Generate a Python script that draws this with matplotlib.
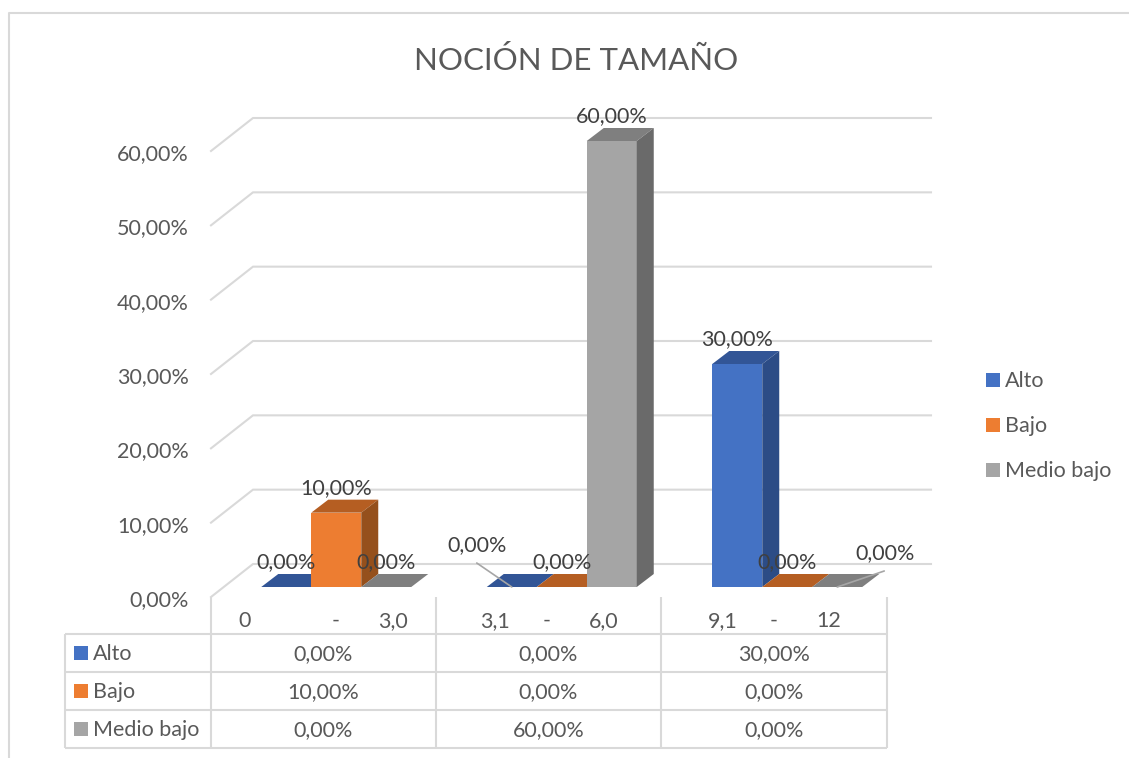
#!/usr/bin/env python3
import matplotlib
matplotlib.use("Agg")
import matplotlib.pyplot as plt
from matplotlib.lines import Line2D
from matplotlib.patches import Polygon, Rectangle
from matplotlib.transforms import Affine2D

series = ["Alto", "Bajo", "Medio bajo"]
alto = [0, 0, 30]
bajo = [10, 0, 0]
medio = [0, 60, 0]
cat_low = ["0", "3,1", "9,1"]
cat_high = ["3,0", "6,0", "12"]
y_ticks = [0, 10, 20, 30, 40, 50, 60]

front = ["#4472C4", "#ED7D31", "#A5A5A5"]
top = ["#325596", "#B55E22", "#7F7F7F"]
side = ["#2C4C86", "#95501C", "#6A6A6A"]
GRID = "#D9D9D9"
TXT = "#595959"
LAB = "#404040"
FS = 15.5

W, H = 1129, 758
plt.rcParams["font.family"] = ["Lato", "DejaVu Sans"]


def pct(v):
    return f"{v:.2f}".replace(".", ",") + "%"


fig = plt.figure(figsize=(W / 100, H / 100), dpi=100)
PX = Affine2D().scale(1, -1).translate(0, H)
ax = fig.add_axes([211 / W, (H - 597) / H, 676.5 / W, 446 / H])
ax.set_xlim(0, 3)
ax.set_ylim(0, 60)
ax.patch.set_visible(False)
for s in ax.spines.values():
    s.set_visible(False)
ax.set_xticks([])
ax.set_yticks(y_ticks, [pct(v) for v in y_ticks])
ax.tick_params(axis="y", length=0, pad=16, labelsize=FS, labelcolor=TXT)
for t in ax.get_yticklabels():
    t.set_transform(t.get_transform() + Affine2D().translate(0, -1))

# size of one pixel in data units
ux = 3 / 676.5
uy = 60 / 446

# walls
for v in y_ticks:
    ax.plot([0, 42 * ux, 720 * ux], [v, v + 33 * uy, v + 33 * uy],
            color=GRID, lw=1.5, clip_on=False, zorder=1, solid_joinstyle="miter")

# bars
bar_w = 50 * ux
dx, dy = 17 * ux, 13 * uy
shift = 12.5 * ux
floor = 10 * uy
values = [alto, bajo, medio]
for j, vals in enumerate(values):
    xs = [i + 0.5 + shift + (j - 1) * bar_w for i in range(3)]
    ax.bar(xs, vals, width=bar_w, bottom=floor, color=front[j], clip_on=False, zorder=3)
    for x, v in zip(xs, vals):
        l, r = x - bar_w / 2, x + bar_w / 2
        t = floor + v
        ax.add_patch(Polygon([(l, t), (r, t), (r + dx, t + dy), (l + dx, t + dy)],
                             fc=top[j], ec="none", clip_on=False, zorder=3))
        if v > 0:
            ax.add_patch(Polygon([(r, floor), (r + dx, floor + dy), (r + dx, t + dy), (r, t)],
                                 fc=side[j], ec="none", clip_on=False, zorder=3))

# data labels, two of them pulled away with a leader line: (group, series) -> text, line start
moved = {(1, 0): ((-35, 42), (-35, 24)), (2, 2): ((48, 34), (47, 16))}
for j, vals in enumerate(values):
    for i, v in enumerate(vals):
        x = i + 0.5 + shift + (j - 1) * bar_w
        off, start = moved.get((i, j), ((0, 25), None))
        ax.annotate(pct(v), (x, floor + v), xytext=off, textcoords="offset pixels",
                    ha="center", va="center", fontsize=FS, color=LAB, zorder=5,
                    annotation_clip=False)
        if start:
            ax.annotate("", (x, floor), xytext=start, textcoords="offset pixels",
                        arrowprops=dict(arrowstyle="-", color="#A6A6A6", lw=1.2,
                                        shrinkA=0, shrinkB=0),
                        zorder=4, annotation_clip=False)


def line(xs, ys, lw=1.5):
    fig.add_artist(Line2D(xs, ys, color=GRID, lw=lw, transform=PX, solid_capstyle="butt"))


def label(x, y, s, size=FS, color=TXT, ha="center"):
    fig.text(x, y + 1, s, transform=PX, fontsize=size, color=color, ha=ha, va="center")


# outer frame
line([9, 9, W], [H, 13, 13])

label(576.5, 59, "NOCIÓN DE TAMAÑO", size=22.5)

# legend
for j, (name, yc) in enumerate(zip(series, [380, 425, 470])):
    fig.add_artist(Rectangle((986, yc - 7), 14, 14, fc=front[j], ec="none", transform=PX))
    label(1005, yc, name, ha="left")

# data table
col_x = [211, 436, 661, 887]
row_y = [634, 672, 710, 748]
for x in col_x:
    line([x, x], [597, 748])
line([65, 65], [634, 748])
for y in row_y:
    line([65, 887], [y, y])
for j, (name, vals) in enumerate(zip(series, values)):
    yc = row_y[j] + 19
    fig.add_artist(Rectangle((74, yc - 7), 14, 14, fc=front[j], ec="none", transform=PX))
    label(93, yc, name, ha="left")
    for x, v in zip([323.5, 548.5, 774], vals):
        label(x, yc, pct(v))

# category labels
low_x = [245, 495, 723]
dash_x = [336, 547, 774]
high_x = [393, 604, 829]
for lo, hi, a, b, c in zip(cat_low, cat_high, low_x, dash_x, high_x):
    label(a, 620, lo)
    label(b, 620, "-")
    label(c, 620, hi)

fig.savefig("out.png", dpi=100)
